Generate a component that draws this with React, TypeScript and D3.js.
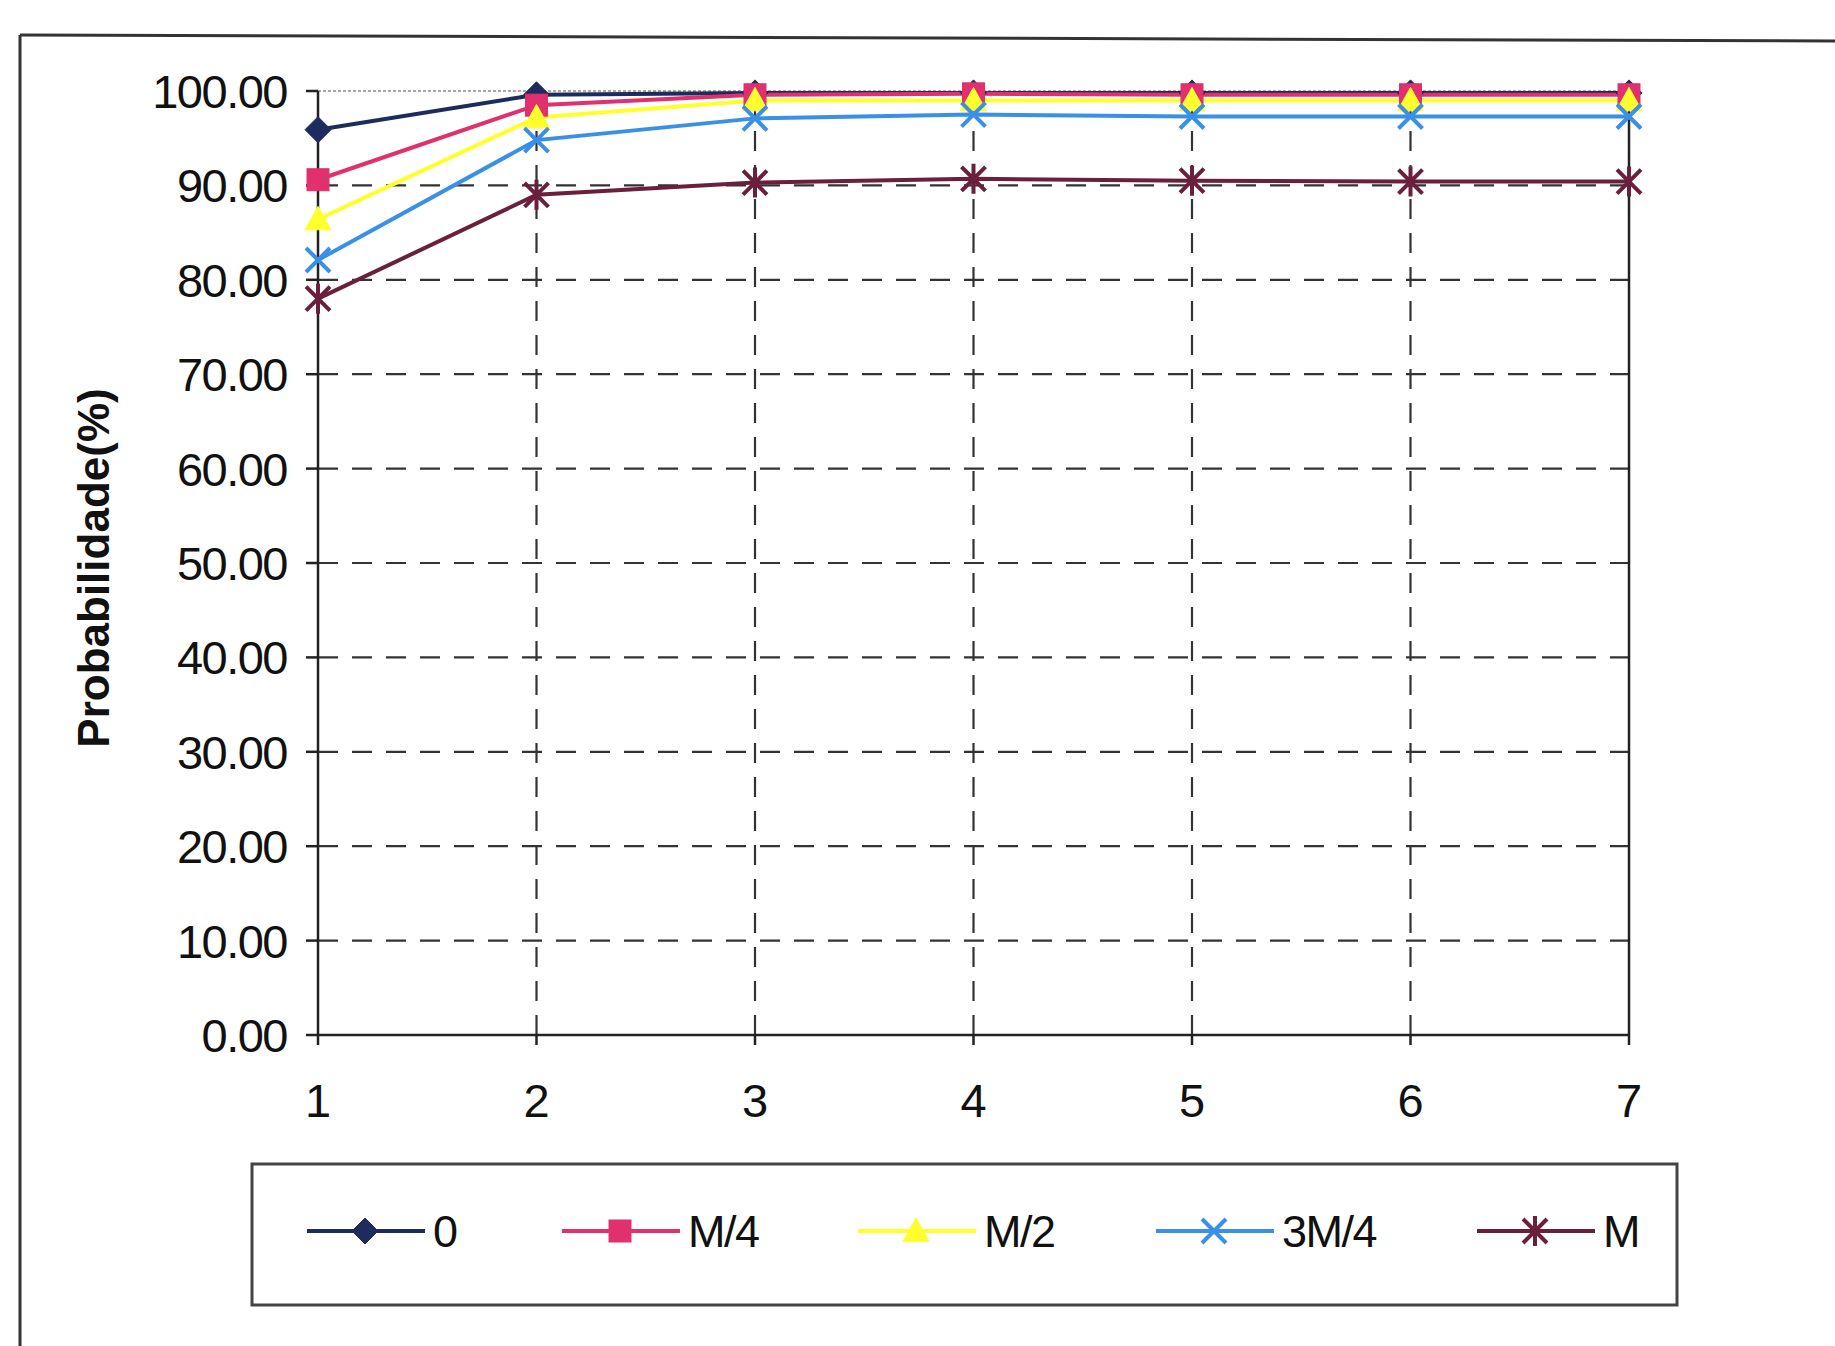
import React from "react";
import * as d3 from "d3";

const categories = [1, 2, 3, 4, 5, 6, 7];
const yTicks = [0, 10, 20, 30, 40, 50, 60, 70, 80, 90, 100];
const seriesNames = ["0", "M/4", "M/2", "3M/4", "M"];
const s0 = [95.9, 99.6, 99.8, 99.8, 99.8, 99.8, 99.8];
const sM4 = [90.6, 98.5, 99.6, 99.7, 99.6, 99.6, 99.6];
const sM2 = [86.4, 97.2, 99.0, 99.0, 99.0, 99.0, 99.0];
const s3M4 = [82.1, 94.8, 97.1, 97.5, 97.3, 97.3, 97.3];
const sM = [78.0, 89.0, 90.3, 90.7, 90.5, 90.4, 90.4];

const seriesValues = [s0, sM4, sM2, s3M4, sM];
const colors = ["#1d2b5e", "#e0306e", "#ffff2e", "#3a8fe6", "#6a1f3c"];
const markers = ["diamond", "square", "triangle", "x", "star"];

const FONT = "'Liberation Sans', Arial, sans-serif";

function Marker({ type, x, y, color }: { type: string; x: number; y: number; color: string }) {
  if (type === "diamond") {
    const r = 13;
    return <path d={`M${x},${y - r}L${x + r},${y}L${x},${y + r}L${x - r},${y}Z`} fill={color} stroke={color} strokeWidth={1} />;
  }
  if (type === "square") {
    const r = 11;
    return <rect x={x - r} y={y - r} width={2 * r} height={2 * r} fill={color} stroke={color} />;
  }
  if (type === "triangle") {
    const r = 13;
    return <path d={`M${x},${y - r}L${x + r},${y + r * 0.8}L${x - r},${y + r * 0.8}Z`} fill={color} stroke={color} />;
  }
  if (type === "x") {
    const r = 12;
    return (
      <path d={`M${x - r},${y - r}L${x + r},${y + r}M${x + r},${y - r}L${x - r},${y + r}`} stroke={color} strokeWidth={4} fill="none" />
    );
  }
  const r = 12;
  return (
    <path
      d={`M${x - r},${y - r}L${x + r},${y + r}M${x + r},${y - r}L${x - r},${y + r}M${x},${y - r * 1.25}L${x},${y + r * 1.25}`}
      stroke={color}
      strokeWidth={4}
      fill="none"
    />
  );
}

export default function App() {
  const W = 1835;
  const H = 1346;
  const x = d3.scaleLinear().domain([1, 7]).range([318, 1629]);
  const y = d3.scaleLinear().domain([0, 100]).range([1035, 91]);
  const line = d3
    .line<number>()
    .x((_, i) => x(categories[i]))
    .y((v) => y(v));

  const legendX = [307, 562, 858, 1156, 1477];
  const legendY = 1231;

  return (
    <svg width={W} height={H} style={{ position: "absolute", left: 0, top: 0, background: "#fff" }} fontFamily={FONT}>
      <rect x={0} y={0} width={W} height={H} fill="#fff" />
      {/* outer frame */}
      <line x1={20} y1={35} x2={W} y2={41} stroke="#333" strokeWidth={3} />
      <line x1={20} y1={35} x2={20} y2={H} stroke="#333" strokeWidth={3} />

      {/* horizontal gridlines */}
      {yTicks.filter((t) => t > 0 && t < 100).map((t) => (
        <line key={"h" + t} x1={x(1)} x2={x(7)} y1={y(t)} y2={y(t)} stroke="#333" strokeWidth={2.2} strokeDasharray="20,14" />
      ))}
      <line x1={x(1)} x2={x(7)} y1={y(100)} y2={y(100)} stroke="#555" strokeWidth={1.2} strokeDasharray="3,2" />
      {/* vertical gridlines */}
      {categories.slice(1, 6).map((c) => (
        <line key={"v" + c} x1={x(c)} x2={x(c)} y1={y(0)} y2={y(100)} stroke="#333" strokeWidth={2.2} strokeDasharray="20,14" />
      ))}
      <line x1={x(7)} x2={x(7)} y1={y(0)} y2={y(100)} stroke="#222" strokeWidth={2.5} />

      {/* axes */}
      <line x1={x(1)} x2={x(1)} y1={y(0)} y2={y(100)} stroke="#222" strokeWidth={2.5} />
      <line x1={x(1)} x2={x(7)} y1={y(0)} y2={y(0)} stroke="#222" strokeWidth={2.5} />
      {yTicks.map((t) => (
        <g key={"yt" + t}>
          <line x1={x(1) - 12} x2={x(1)} y1={y(t)} y2={y(t)} stroke="#222" strokeWidth={2.5} />
          <text x={287} y={y(t)} dy="0.36em" textAnchor="end" fontSize={47} letterSpacing={-1.5} fill="#111">
            {t.toFixed(2)}
          </text>
        </g>
      ))}
      {categories.map((c) => (
        <g key={"xt" + c}>
          <line x1={x(c)} x2={x(c)} y1={y(0)} y2={y(0) + 10} stroke="#222" strokeWidth={2.5} />
          <text x={x(c)} y={1117} textAnchor="middle" fontSize={47} fill="#111">
            {c}
          </text>
        </g>
      ))}
      <text
        transform={`translate(94,568) rotate(-90)`}
        textAnchor="middle"
        dy="0.35em"
        fontSize={44}
        fontWeight="bold"
        fill="#111"
      >
        Probabilidade(%)
      </text>

      {/* series */}
      {seriesValues.map((vals, si) => (
        <g key={"s" + si}>
          <path d={line(vals) || ""} fill="none" stroke={colors[si]} strokeWidth={4} />
        </g>
      ))}
      {seriesValues.map((vals, si) => (
        <g key={"m" + si}>
          {vals.map((v, i) => (
            <Marker key={i} type={markers[si]} x={x(categories[i])} y={y(v)} color={colors[si]} />
          ))}
        </g>
      ))}

      {/* legend */}
      <rect x={252} y={1164} width={1425} height={141} fill="none" stroke="#444" strokeWidth={3} />
      {seriesNames.map((name, i) => (
        <g key={"l" + i}>
          <line x1={legendX[i]} x2={legendX[i] + 118} y1={legendY} y2={legendY} stroke={colors[i]} strokeWidth={4} />
          <Marker type={markers[i]} x={legendX[i] + 58} y={legendY} color={colors[i]} />
          <text x={legendX[i] + 126} y={legendY} dy="0.36em" fontSize={45} letterSpacing={-1.5} fill="#111">
            {name}
          </text>
        </g>
      ))}
    </svg>
  );
}
